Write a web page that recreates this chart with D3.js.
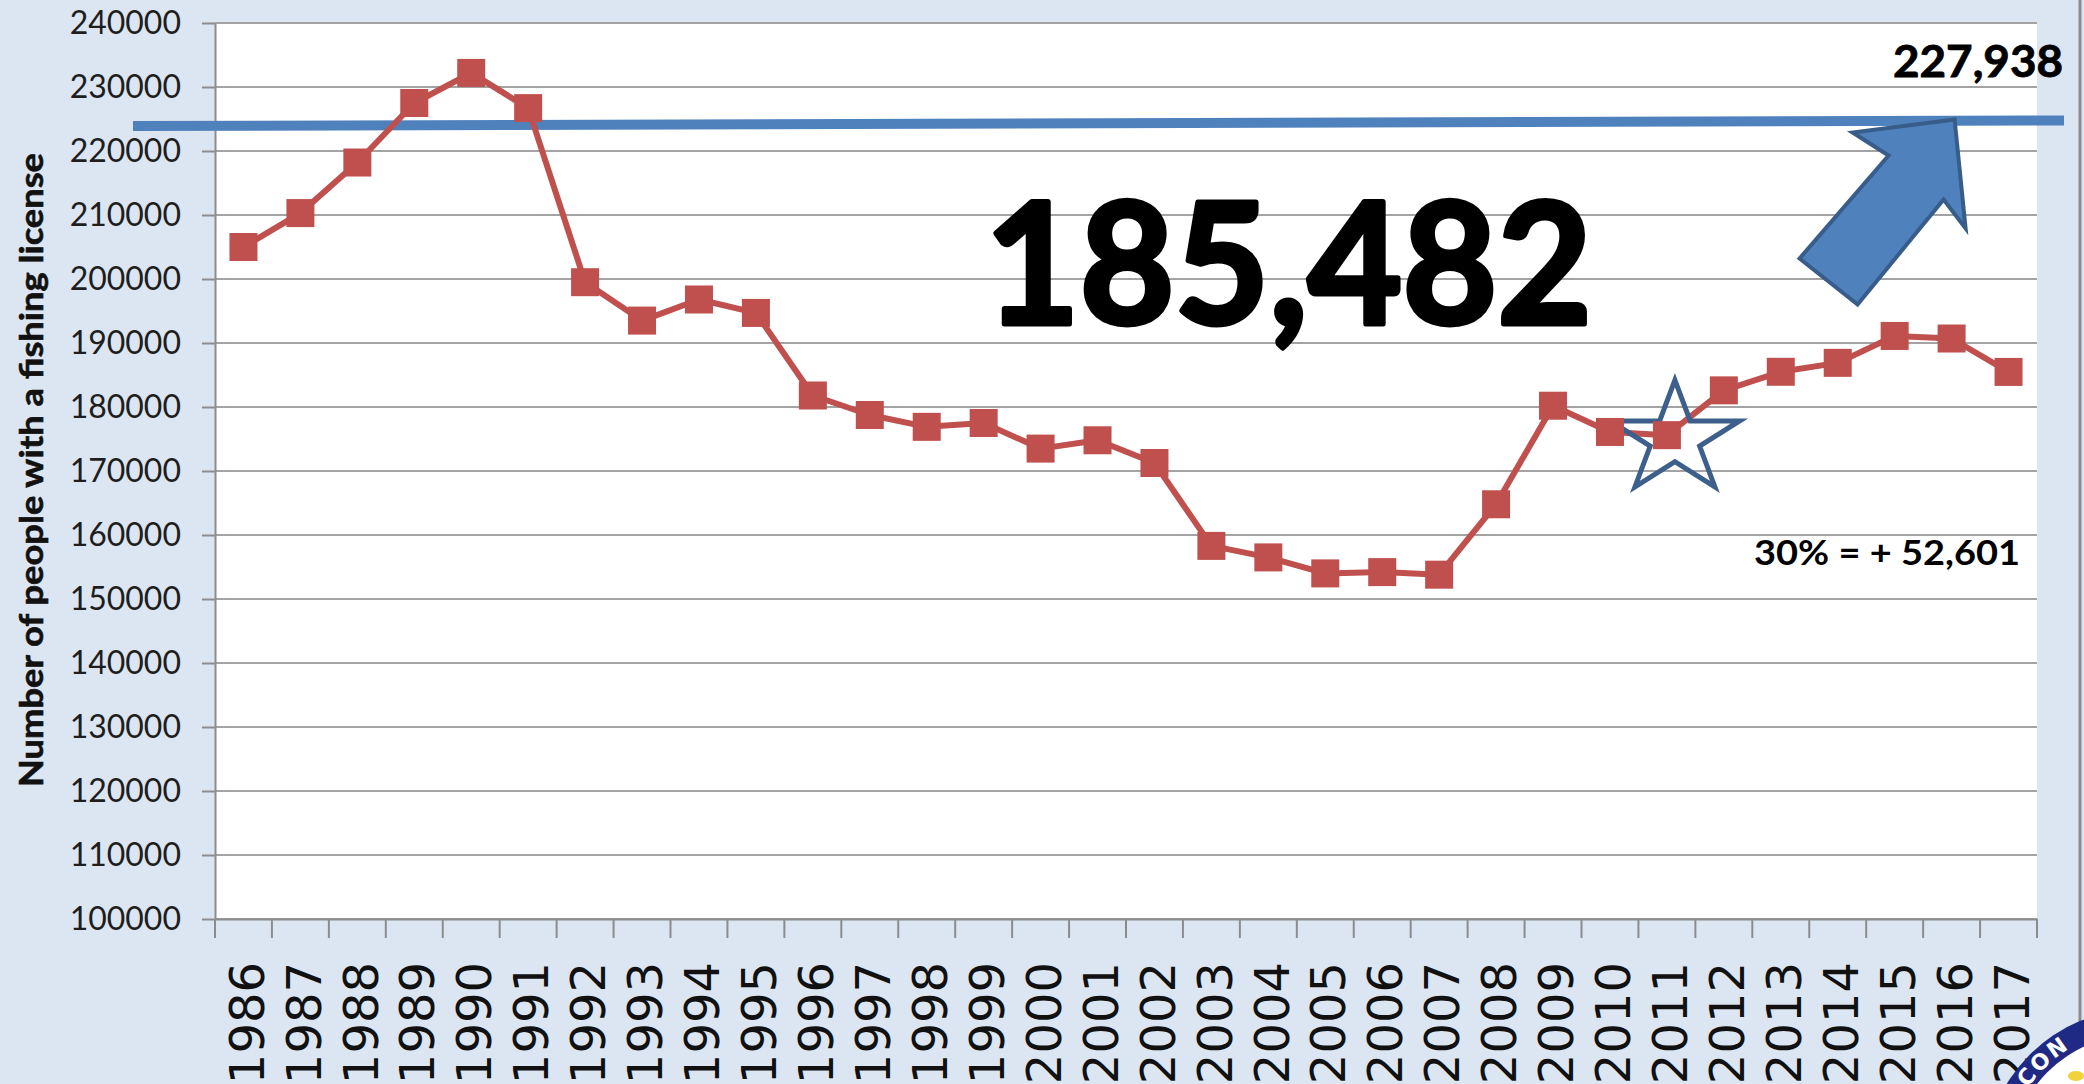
<!DOCTYPE html>
<html><head><meta charset="utf-8">
<script src="https://cdn.jsdelivr.net/npm/d3@7"></script>
<style>html,body{margin:0;padding:0;background:#dce6f2;overflow:hidden}</style>
</head><body><svg id="c" width="2084" height="1084"></svg>
<script>
// ---- data ----
const years = ["1986","1987","1988","1989","1990","1991","1992","1993","1994","1995","1996","1997","1998","1999","2000","2001","2002","2003","2004","2005","2006","2007","2008","2009","2010","2011","2012","2013","2014","2015","2016","2017"];
const licenses = [205000,210300,218200,227500,232200,226700,199500,193500,196800,194700,181800,178750,176900,177500,173500,174800,171250,158300,156500,154000,154200,153800,164800,180200,176100,175600,182600,185500,186900,191100,190700,185482];
const yTickValues = [100000,110000,120000,130000,140000,150000,160000,170000,180000,190000,200000,210000,220000,230000,240000];
const targetLineValues = [223900, 224770];
const starYear = "2011";
const arrowYear = "2016";
const currentLabel = "185,482";
const targetLabel = "227,938";
const gainLabel = "30% = + 52,601";
const yTitle = "Number of people with a fishing license";
const sealText = "CON";

// ---- layout ----
const W = 2084, H = 1084;
const plot = {left: 215, right: 2037, top: 23, bottom: 919};
const svg = d3.select("#c");
const x = d3.scaleBand().domain(years).range([plot.left, plot.right]).padding(0);
const y = d3.scaleLinear().domain([100000, 240000]).range([plot.bottom, plot.top]);
const cx = d => x(d) + x.bandwidth() / 2;
const calibri = "Lato, 'Open Sans', 'Noto Sans', sans-serif";
const axisGray = "#8c8c8c";

svg.append("rect").attr("width", W).attr("height", H).attr("fill", "#dce6f2");
svg.append("rect").attr("x", plot.left).attr("y", plot.top)
  .attr("width", plot.right - plot.left).attr("height", plot.bottom - plot.top).attr("fill", "#fff");
svg.append("line").attr("x1", W - 4).attr("x2", W - 4).attr("y1", 0).attr("y2", H)
  .attr("stroke", axisGray).attr("stroke-width", 3);

// gridlines
svg.append("g").selectAll("line").data(yTickValues).join("line")
  .attr("x1", plot.left).attr("x2", plot.right)
  .attr("y1", d => y(d)).attr("y2", d => y(d))
  .attr("stroke", "#a3a3a3").attr("stroke-width", 2);

// y axis
const yAxis = svg.append("g").attr("transform", `translate(${plot.left},0)`)
  .call(d3.axisLeft(y).tickValues(yTickValues).tickSize(13).tickSizeOuter(0).tickPadding(21).tickFormat(d3.format("d")));
yAxis.select(".domain").attr("stroke", axisGray).attr("stroke-width", 2);
yAxis.selectAll(".tick line").attr("stroke", axisGray).attr("stroke-width", 2);
yAxis.selectAll(".tick text").attr("font-family", calibri).attr("font-size", 32).attr("fill", "#1e1e1e");

// x axis
const xAxis = svg.append("g").attr("transform", `translate(0,${plot.bottom})`)
  .call(d3.axisBottom(x).tickSize(0).tickSizeOuter(0).tickPadding(0));
xAxis.select(".domain").attr("stroke", axisGray).attr("stroke-width", 2);
xAxis.selectAll(".tick text")
  .attr("transform", "rotate(-90)")
  .attr("x", -43).attr("y", 0).attr("dy", "0.42em")
  .attr("text-anchor", "end")
  .attr("font-family", "'DejaVu Sans', Verdana, sans-serif")
  .attr("font-size", 48).attr("fill", "#111");
const bounds = years.map(d => x(d)).concat([plot.right]);
svg.append("g").selectAll("line").data(bounds).join("line")
  .attr("x1", d => d).attr("x2", d => d)
  .attr("y1", plot.bottom).attr("y2", plot.bottom + 19)
  .attr("stroke", axisGray).attr("stroke-width", 2);

// y title
svg.append("text")
  .attr("transform", `translate(43,470) rotate(-90)`)
  .attr("text-anchor", "middle")
  .attr("font-family", calibri).attr("font-weight", "bold").attr("font-size", 32)
  .attr("textLength", 634).attr("lengthAdjust", "spacingAndGlyphs")
  .attr("fill", "#111").attr("stroke", "#111").attr("stroke-width", 0.6)
  .text(yTitle);

// target line
svg.append("line")
  .attr("x1", plot.left - 82).attr("x2", plot.right + 27)
  .attr("y1", y(targetLineValues[0])).attr("y2", y(targetLineValues[1]))
  .attr("stroke", "#4f81bd").attr("stroke-width", 10);

// series line
const data = years.map((yr, i) => ({year: yr, value: licenses[i]}));
svg.append("path").datum(data)
  .attr("d", d3.line().x(d => cx(d.year)).y(d => y(d.value)))
  .attr("fill", "none").attr("stroke", "#c0504d").attr("stroke-width", 6).attr("stroke-linejoin", "round");

// star around 2011
const si = years.indexOf(starYear);
const sx = cx(starYear) + 8, sy = y(licenses[si]) + 4;
const starPts = d3.range(10).map(k => {
  const a = -Math.PI / 2 + k * Math.PI / 5;
  const f = k % 2 === 0 ? 1 : 0.382;
  return [sx + 68 * f * Math.cos(a), sy + 59 * f * Math.sin(a)];
});
svg.append("polygon").attr("points", starPts.map(p => p.join(",")).join(" "))
  .attr("fill", "none").attr("stroke", "#3d5f8c").attr("stroke-width", 5).attr("stroke-linejoin", "miter");

// markers
svg.append("g").selectAll("rect").data(data).join("rect")
  .attr("x", d => cx(d.year) - 14).attr("y", d => y(d.value) - 14)
  .attr("width", 28).attr("height", 28).attr("fill", "#c0504d");

// arrow
const tipX = cx(arrowYear) + 3, tipY = y(targetLineValues[1]) - 1;
const arrowShape = [[0,0],[-102,13],[-66,36],[-155,139],[-97,185],[-11,80],[11,109]];
svg.append("polygon")
  .attr("points", arrowShape.map(p => [tipX + p[0], tipY + p[1]].join(",")).join(" "))
  .attr("fill", "#4f81bd").attr("stroke", "#385d8a").attr("stroke-width", 4).attr("stroke-linejoin", "miter");

// labels
svg.append("text").attr("x", 985).attr("y", 324)
  .attr("font-family", calibri).attr("font-weight", "bold").attr("font-size", 168)
  .attr("textLength", 607).attr("lengthAdjust", "spacingAndGlyphs").attr("fill", "#000")
  .attr("stroke", "#000").attr("stroke-width", 5).attr("stroke-linejoin", "round")
  .text(currentLabel);
svg.append("text").attr("x", 1893).attr("y", 77)
  .attr("font-family", calibri).attr("font-weight", "bold").attr("font-size", 43)
  .attr("textLength", 170).attr("lengthAdjust", "spacingAndGlyphs").attr("fill", "#000")
  .attr("stroke", "#000").attr("stroke-width", 0.8)
  .text(targetLabel);
svg.append("text").attr("x", 1754).attr("y", 565)
  .attr("font-family", calibri).attr("font-weight", "bold").attr("font-size", 34)
  .attr("textLength", 266).attr("lengthAdjust", "spacingAndGlyphs").attr("fill", "#000")
  .text(gainLabel);

// seal (partially visible)
const sc = {x: 2140, y: 1165};
const seal = svg.append("g");
seal.append("circle").attr("cx", sc.x).attr("cy", sc.y).attr("r", 156).attr("fill", "#1f2a85");
seal.append("circle").attr("cx", sc.x).attr("cy", sc.y).attr("r", 131).attr("fill", "#fff");
seal.append("ellipse").attr("cx", 2076).attr("cy", 1076).attr("rx", 8).attr("ry", 5).attr("fill", "#f2d23c");
const rr = 136, a0 = 195 * Math.PI / 180, a1 = 300 * Math.PI / 180;
seal.append("path").attr("id", "sealArc")
  .attr("d", `M${sc.x + rr * Math.cos(a0)},${sc.y + rr * Math.sin(a0)} A${rr},${rr} 0 0 1 ${sc.x + rr * Math.cos(a1)},${sc.y + rr * Math.sin(a1)}`)
  .attr("fill", "none");
seal.append("text").attr("font-family", "'DejaVu Sans', sans-serif").attr("font-weight", "bold")
  .attr("font-size", 22).attr("fill", "#fff").attr("letter-spacing", 2)
  .append("textPath").attr("href", "#sealArc").attr("startOffset", 46).text(sealText);
</script>
</body></html>
